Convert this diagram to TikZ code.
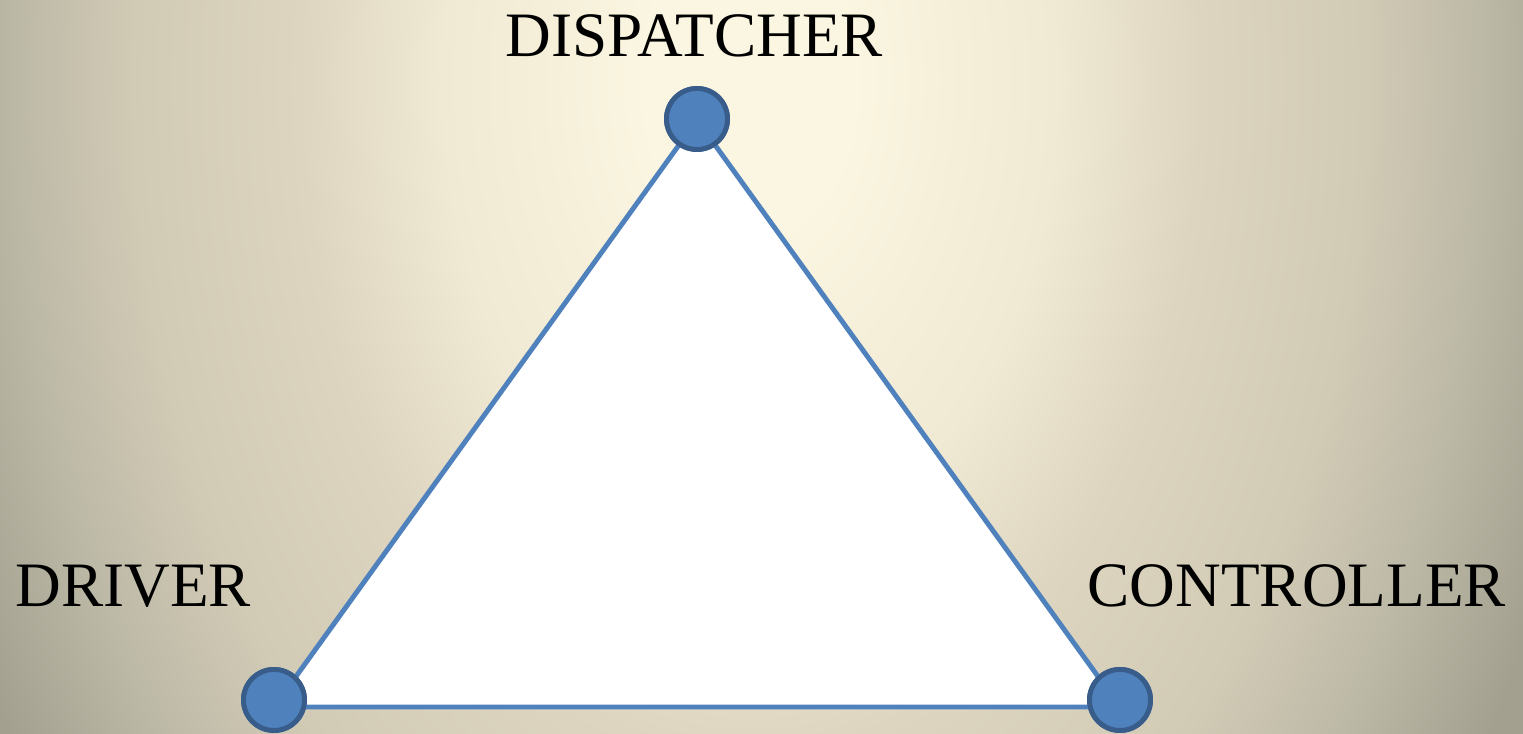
\documentclass[tikz,border=0pt]{standalone}
\usepackage{fontspec}
\setmainfont{Liberation Serif}
\definecolor{nodeblue}{HTML}{4F81BD}
\definecolor{nodeedge}{HTML}{385D8A}
\definecolor{glowa}{HTML}{FBF6E1}
\definecolor{glowb}{HTML}{F0E9D4}
\definecolor{glowc}{HTML}{DDD5C0}
\definecolor{glowd}{HTML}{D1CAB5}
\definecolor{glowe}{HTML}{BDB9A7}
\definecolor{glowf}{HTML}{A3A08F}
\pgfdeclareradialshading{bgglow}{\pgfpoint{0bp}{0bp}}{color(0bp)=(glowa); color(3bp)=(glowa); color(8.9bp)=(glowb); color(13.1bp)=(glowc); color(17.9bp)=(glowd); color(21.3bp)=(glowe); color(25bp)=(glowf); color(50bp)=(glowf)}
\begin{document}
\begin{tikzpicture}[
        vertex/.style={circle,draw=nodeedge,fill=nodeblue,line width=1.4pt,minimum size=0.61cm,inner sep=0pt},
        role/.style={anchor=base,inner sep=0pt,font=\fontsize{18}{22}\selectfont}]

    % Background glow
    \useasboundingbox (0,0) rectangle (15.23,7.34);
    \begin{scope}
        \clip (0,0) rectangle (15.23,7.34);
        \fill[glowf] (0,0) rectangle (15.23,7.34);
        \shade[shading=bgglow] (7.5,6.54) ellipse (8.6 and 12.9);
    \end{scope}

    % Corners of the triangle
    \coordinate (top) at (6.97,6.14);
    \coordinate (left) at (2.74,0.27);
    \coordinate (right) at (11.20,0.27);
    \fill[white] (top) -- (left) -- (right) -- cycle;

    % Vertices
    \node[vertex] (dispatcher) at (6.97,6.15) {};
    \node[vertex] (driver) at (2.74,0.34) {};
    \node[vertex] (controller) at (11.20,0.34) {};

    % Edges
    \draw[nodeblue,line width=1.4pt] (dispatcher) -- (top) -- (left) -- (right) -- (top);
    \draw[nodeblue,line width=1.4pt] (driver) -- (left);
    \draw[nodeblue,line width=1.4pt] (controller) -- (right);

    % Vertices again on top of the edges
    \node[vertex] at (dispatcher) {};
    \node[vertex] at (driver) {};
    \node[vertex] at (controller) {};

    % Labels
    \node[role] (dispatcherlabel) at (6.945,6.77) {DISPATCHER};
    \node[role,anchor=base west] (driverlabel) at (0.15,1.27) {DRIVER};
    \node[role,anchor=base west] (controllerlabel) at (10.87,1.27) {CONTROLLER};
\end{tikzpicture}
\end{document}
